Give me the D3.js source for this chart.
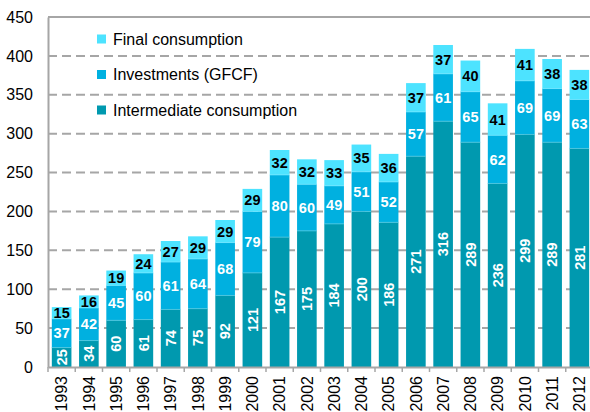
<!DOCTYPE html>
<html>
<head>
<meta charset="utf-8">
<script src="https://unpkg.com/d3@7/dist/d3.min.js"></script>
<style>
  body { margin: 0; background: #fff; }
  svg { font-family: "Liberation Sans", Arial, sans-serif; }
</style>
</head>
<body>
<div id="chart"></div>
<script>
const years = ["1993","1994","1995","1996","1997","1998","1999","2000","2001","2002",
               "2003","2004","2005","2006","2007","2008","2009","2010","2011","2012"];
const intermediate = [25,34,60,61,74,75,92,121,167,175,184,200,186,271,316,289,236,299,289,281];
const investments  = [37,42,45,60,61,64,68,79,80,60,49,51,52,57,61,65,62,69,69,63];
const finalCons    = [15,16,19,24,27,29,29,29,32,32,33,35,36,37,37,40,41,41,38,38];
const yTicks = [0,50,100,150,200,250,300,350,400,450];

const width = 590, height = 412;
const margin = {top: 17, right: -3, bottom: 45, left: 48};

const svg = d3.select("#chart").append("svg").attr("width", width).attr("height", height);

const x = d3.scaleBand().domain(years).range([margin.left, width - margin.right]).paddingInner(0.28).paddingOuter(0.14);
const y = d3.scaleLinear().domain([0, 450]).range([height - margin.bottom, margin.top]);

const series = [
  {key: "Intermediate consumption", values: intermediate, color: "#0099AF", text: "#fff", rotate: true},
  {key: "Investments (GFCF)", values: investments, color: "#00B0E0", text: "#fff", rotate: false},
  {key: "Final consumption", values: finalCons, color: "#4DE3FF", text: "#000", rotate: false}
];

// gridlines
svg.append("g").selectAll("line").data(yTicks.filter(t => t > 0 && t < 450)).enter().append("line")
  .attr("x1", margin.left).attr("x2", width)
  .attr("y1", d => y(d)).attr("y2", d => y(d))
  .attr("stroke", "#A6A6A6").attr("stroke-width", 2).attr("stroke-dasharray", "9,5");
svg.append("line").attr("x1", margin.left).attr("x2", width)
  .attr("y1", y(450)).attr("y2", y(450)).attr("stroke", "#A6A6A6").attr("stroke-width", 2);

// stacked bars
const rows = years.map((yr, i) => ({year: yr, i: i}));
let base = years.map(() => 0);
series.forEach(s => {
  const b0 = base.slice();
  const g = svg.append("g");
  g.selectAll("rect").data(rows).enter().append("rect")
    .attr("x", d => x(d.year))
    .attr("width", x.bandwidth())
    .attr("y", d => y(b0[d.i] + s.values[d.i]))
    .attr("height", d => y(b0[d.i]) - y(b0[d.i] + s.values[d.i]))
    .attr("fill", s.color);
  g.selectAll("text").data(rows).enter().append("text")
    .attr("transform", d => {
      const cx = x(d.year) + x.bandwidth() / 2;
      const cy = y(b0[d.i] + s.values[d.i] / 2);
      return s.rotate ? `translate(${cx},${cy}) rotate(-90)` : `translate(${cx},${cy})`;
    })
    .attr("text-anchor", "middle").attr("dy", "0.36em")
    .attr("font-size", 14.5).attr("font-weight", "bold").attr("fill", s.text)
    .text(d => s.values[d.i]);
  base = base.map((v, i) => v + s.values[i]);
});

// segment separators
svg.append("g").selectAll("line").data(rows).enter().append("line")
  .attr("x1", d => x(d.year)).attr("x2", d => x(d.year) + x.bandwidth())
  .attr("y1", d => y(intermediate[d.i])).attr("y2", d => y(intermediate[d.i]))
  .attr("stroke", "#4FC8E0").attr("stroke-width", 0.8);
svg.append("g").selectAll("line").data(rows).enter().append("line")
  .attr("x1", d => x(d.year)).attr("x2", d => x(d.year) + x.bandwidth())
  .attr("y1", d => y(intermediate[d.i] + investments[d.i])).attr("y2", d => y(intermediate[d.i] + investments[d.i]))
  .attr("stroke", "#6FE6FF").attr("stroke-width", 0.8);

// y axis
const yAxis = svg.append("g").attr("transform", `translate(${margin.left},0)`)
  .call(d3.axisLeft(y).tickValues(yTicks).tickSize(0).tickPadding(15));
yAxis.select(".domain").attr("stroke", "#A6A6A6").attr("stroke-width", 2);
yAxis.selectAll("text").attr("font-size", 16).attr("fill", "#000").attr("font-family", "'Liberation Sans', Arial, sans-serif");

// x axis
const xAxis = svg.append("g").attr("transform", `translate(0,${y(0)})`)
  .call(d3.axisBottom(x).tickSize(0).tickFormat(""));
xAxis.select(".domain").attr("stroke", "#A6A6A6").attr("stroke-width", 2);
const step = x.step();
svg.append("g").selectAll("line").data(d3.range(years.length + 1)).enter().append("line")
  .attr("x1", i => margin.left + i * step).attr("x2", i => margin.left + i * step)
  .attr("y1", y(0)).attr("y2", y(0) + 5)
  .attr("stroke", "#A6A6A6").attr("stroke-width", 1.5);
svg.append("g").selectAll("text").data(years).enter().append("text")
  .attr("transform", d => `translate(${x(d) + x.bandwidth() / 2},${y(0) + 9}) rotate(-90)`)
  .attr("text-anchor", "end").attr("dy", "0.36em")
  .attr("font-size", 16).attr("fill", "#000")
  .text(d => d);

// legend
const legend = svg.append("g");
[series[2], series[1], series[0]].forEach((s, i) => {
  const ly = 39 + i * 35.5;
  legend.append("rect").attr("x", 97).attr("y", ly - 4.5).attr("width", 9).attr("height", 9).attr("fill", s.color);
  legend.append("text").attr("x", 113).attr("y", ly).attr("dy", "0.36em")
    .attr("font-size", 16).attr("fill", "#000").text(s.key);
});
</script>
</body>
</html>
